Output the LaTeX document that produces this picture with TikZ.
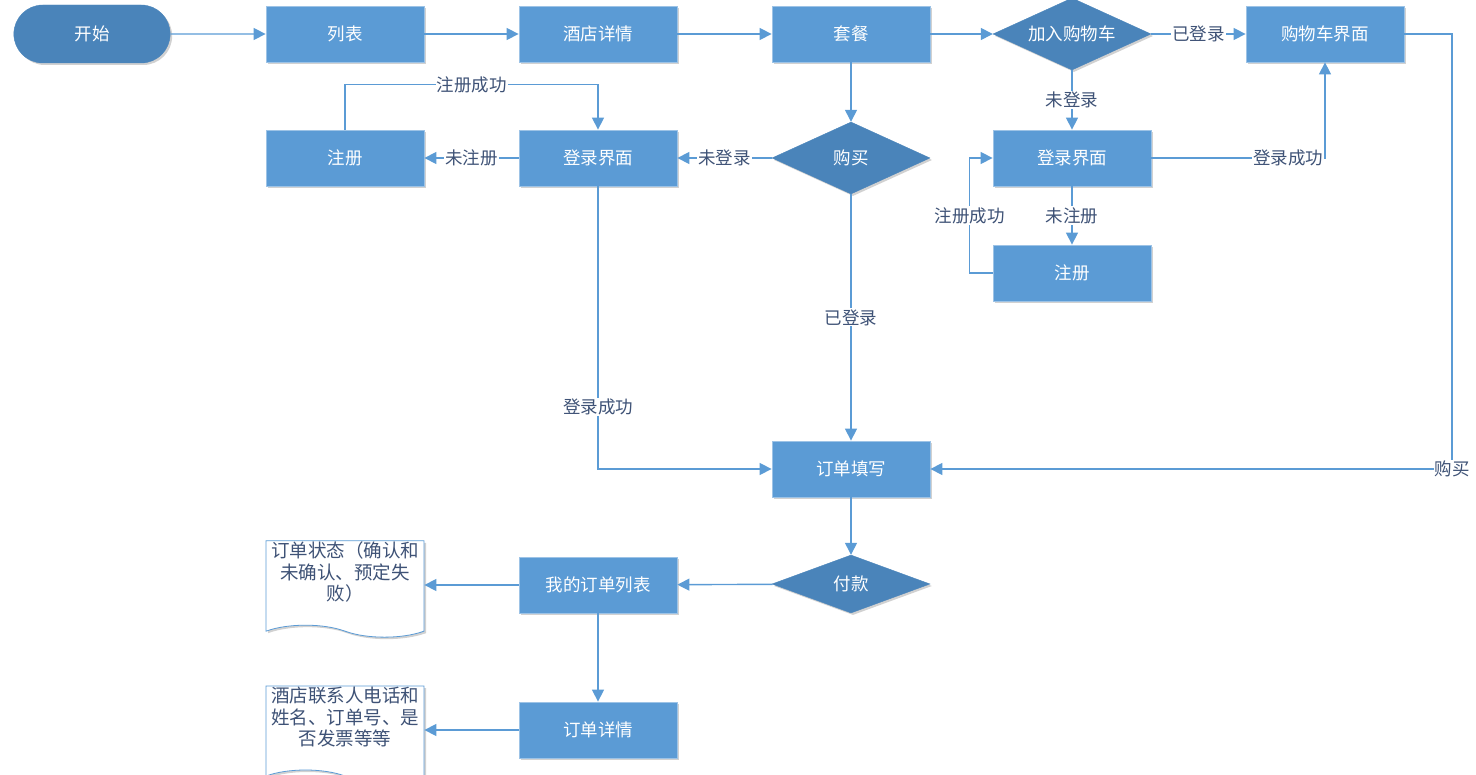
\documentclass[tikz,border=0pt]{standalone}
\usepackage{fontspec}
\setmainfont{Noto Sans CJK SC}
\usetikzlibrary{arrows.meta,positioning,calc,shapes.geometric,shapes.misc,shapes.symbols,shadows}
\definecolor{boxblue}{RGB}{91,155,213}
\definecolor{darkblue}{RGB}{74,132,186}
\definecolor{labelgray}{RGB}{62,82,118}

\begin{document}
\begin{tikzpicture}[
    x=1pt, y=-1pt,
    font=\fontsize{17.5}{21}\selectfont,
    >={Triangle[length=12pt,width=12pt]},
    shade/.style={drop shadow={shadow xshift=2pt, shadow yshift=-2pt, opacity=0.18, fill=black}},
    box/.style={draw=boxblue!60!white, line width=0.8pt, fill=boxblue, text=white, minimum width=158pt, minimum height=56pt, inner sep=2pt, shade},
    decision/.style={diamond, aspect=2.2, draw=darkblue, fill=darkblue, text=white, minimum width=158pt, minimum height=72pt, inner sep=0pt, shade},
    terminal/.style={rounded rectangle, draw=darkblue, fill=darkblue, text=white, minimum width=163pt, minimum height=58pt, shade},
    docbox/.style={tape, tape bend top=none, tape bend bottom=out and in, tape bend height=12pt, draw=boxblue, line width=0.8pt, fill=white, text=labelgray, text width=156pt, align=center, minimum height=80pt, inner sep=1pt, font=\fontsize{18.5}{21.5}\selectfont, shade},
    lbl/.style={fill=white, text=labelgray, inner sep=1pt},
    arrow/.style={->, draw=boxblue, line width=1.4pt}
]
\useasboundingbox (0,0) rectangle (1476,775);

% ===================== TOP ROW =====================
\node[terminal] (start) at (92,34) {开始};
\node[box] (list) at (345,34) {列表};
\node[box] (hotel) at (598,34) {酒店详情};
\node[box] (package) at (851,34) {套餐};
\node[decision] (addcart) at (1072,34) {加入购物车};
\node[box] (cart) at (1325,34) {购物车界面};

% ===================== LOGIN / REGISTER =====================
\node[box] (regL) at (345,158) {注册};
\node[box] (loginL) at (598,158) {登录界面};
\node[decision] (buy) at (851,158) {购买};
\node[box] (loginR) at (1072,158) {登录界面};
\node[box] (regR) at (1072,273) {注册};

% ===================== ORDER =====================
\node[box] (fill) at (851,469) {订单填写};
\node[decision, minimum height=58pt] (pay) at (851,584) {付款};
\node[box] (myorders) at (598,585) {我的订单列表};
\node[box] (detail) at (598,730) {订单详情};
\node[docbox] (docstate) at (345,583) {订单状态（确认和\\未确认、预定失\\败）\\[2pt]\mbox{}};
\node[docbox] (docinfo) at (345,728) {酒店联系人电话和\\姓名、订单号、是\\否发票等等\\[2pt]\mbox{}};

\coordinate (rightrail) at (1452,34);

% ===================== ARROWS =====================
\draw[arrow] (start) -- (list);
\draw[arrow] (list) -- (hotel);
\draw[arrow] (hotel) -- (package);
\draw[arrow] (package) -- (addcart);
\draw[arrow] (addcart) -- node[lbl] {已登录} (cart);
\draw[arrow] (addcart) -- node[lbl] {未登录} (loginR);
\draw[arrow] (loginR.east) -- (loginR.east -| cart.south) node[lbl, anchor=east] {登录成功} -- (cart.south);
\draw[arrow] (loginR) -- node[lbl] {未注册} (regR);
\draw[arrow] (regR.west) -- ++(-23,0) -- node[lbl] {注册成功} ++(0,-115) -- (loginR.west);
\draw[arrow] (cart.east) -- (rightrail) -- (rightrail |- fill.east) node[lbl] {购买} -- (fill.east);

\draw[arrow] (package) -- (buy);
\draw[arrow] (buy) -- node[lbl] {未登录} (loginL);
\draw[arrow] (loginL) -- node[lbl] {未注册} (regL);
\draw[arrow] (regL.north) -- ++(0,-45) -- node[lbl] {注册成功} ($(loginL.north)+(0,-45)$) -- (loginL.north);
\draw[arrow] (loginL.south) -- node[lbl, pos=0.78] {登录成功} (loginL.south |- fill.west) -- (fill.west);
\draw[arrow] (buy) -- node[lbl] {已登录} (fill);

\draw[arrow] (fill) -- (pay);
\draw[arrow] (pay) -- (myorders);
\draw[arrow] (myorders.west) -- (myorders.west -| docstate.east);
\draw[arrow] (myorders) -- (detail);
\draw[arrow] (detail.west) -- (detail.west -| docinfo.east);

\end{tikzpicture}
\end{document}
